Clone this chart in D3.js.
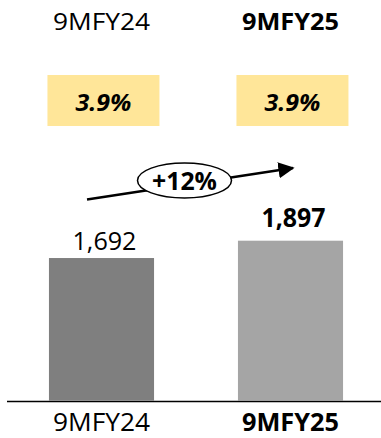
<!DOCTYPE html>
<html>
<head>
<meta charset="utf-8">
<script src="https://cdn.jsdelivr.net/npm/d3@7"></script>
<style>
  html, body { margin: 0; padding: 0; background: #fff; }
  svg { display: block; }
  text { font-family: "Open Sans", Lato, sans-serif; fill: #000; }
</style>
</head>
<body>
<div id="chart"></div>
<script>
// Nine-month comparison: value per period, margin per period, growth badge
const categories = ["9MFY24", "9MFY25"];
const values = [1692, 1897];
const valueLabels = ["1,692", "1,897"];
const margins = ["3.9%", "3.9%"];
const growthLabel = "+12%";
const emphasis = [false, true];
const barColors = ["#7F7F7F", "#A5A5A5"];

const W = 381, H = 438;
const svg = d3.select("#chart").append("svg")
  .attr("width", W).attr("height", H);

const x = d3.scaleBand()
  .domain(categories)
  .range([7, 385])
  .paddingInner(0.444)
  .paddingOuter(0.222);

const y = d3.scaleLinear()
  .domain([0, 2000])
  .range([401, 232]);

const cx = c => x(c) + x.bandwidth() / 2;

// Bars
svg.selectAll("rect.bar")
  .data(categories)
  .join("rect")
  .attr("class", "bar")
  .attr("x", c => x(c))
  .attr("width", x.bandwidth())
  .attr("y", (c, i) => y(values[i]))
  .attr("height", (c, i) => y(0) - y(values[i]) - 0.5)
  .attr("fill", (c, i) => barColors[i]);

// Baseline
svg.append("line")
  .attr("x1", 7).attr("x2", W)
  .attr("y1", y(0) + 0.5).attr("y2", y(0) + 0.5)
  .attr("stroke", "#000").attr("stroke-width", 1.5);

// Category labels, below the axis and repeated above the chart
[[29.5, 24], [431, 25]].forEach(([baseY, size]) => {
  svg.selectAll(null)
    .data(categories)
    .join("text")
    .attr("x", cx)
    .attr("y", baseY)
    .attr("text-anchor", "middle")
    .attr("font-size", size)
    .attr("font-weight", (c, i) => emphasis[i] ? 700 : 400)
    .attr("textLength", 97)
    .attr("lengthAdjust", "spacingAndGlyphs")
    .text(c => c);
});

// Margin badges
const badge = svg.selectAll("g.badge")
  .data(categories)
  .join("g")
  .attr("class", "badge");

badge.append("rect")
  .attr("x", c => x(c) - 1.5)
  .attr("y", 75)
  .attr("width", 112)
  .attr("height", 51)
  .attr("fill", "#FFE699");

badge.append("text")
  .attr("x", c => x(c) - 1.5 + 56)
  .attr("y", 110.5)
  .attr("text-anchor", "middle")
  .attr("font-size", 23)
  .attr("font-weight", 700)
  .attr("font-style", "italic")
  .attr("textLength", 56)
  .attr("lengthAdjust", "spacingAndGlyphs")
  .text((c, i) => margins[i]);

// Value labels
svg.selectAll("text.value")
  .data(categories)
  .join("text")
  .attr("class", "value")
  .attr("x", c => cx(c) + 3)
  .attr("y", (c, i) => y(values[i]) - 8 - (emphasis[i] ? 6 : 0))
  .attr("text-anchor", "middle")
  .attr("font-size", 26)
  .attr("font-weight", (c, i) => emphasis[i] ? 700 : 400)
  .attr("textLength", 64)
  .attr("lengthAdjust", "spacingAndGlyphs")
  .text((c, i) => valueLabels[i]);

// Growth arrow with oval badge
const defs = svg.append("defs");
defs.append("marker")
  .attr("id", "arrowHead")
  .attr("viewBox", "0 0 10 10")
  .attr("refX", 9).attr("refY", 5)
  .attr("markerWidth", 6.5).attr("markerHeight", 6.5)
  .attr("markerUnits", "strokeWidth")
  .attr("orient", "auto")
  .append("path")
  .attr("d", "M0,0 L10,5 L0,10 Z")
  .attr("fill", "#000");

svg.append("line")
  .attr("x1", 87).attr("y1", 199.5)
  .attr("x2", 293).attr("y2", 168)
  .attr("stroke", "#000")
  .attr("stroke-width", 2.5)
  .attr("marker-end", "url(#arrowHead)");

svg.append("ellipse")
  .attr("cx", 184.5).attr("cy", 180.5)
  .attr("rx", 47).attr("ry", 17.5)
  .attr("fill", "#fff")
  .attr("stroke", "#000")
  .attr("stroke-width", 1.5);

svg.append("text")
  .attr("x", 184.5)
  .attr("y", 190)
  .attr("text-anchor", "middle")
  .attr("font-size", 24.5)
  .attr("font-weight", 700)
  .attr("textLength", 65)
  .attr("lengthAdjust", "spacingAndGlyphs")
  .text(growthLabel);
</script>
</body>
</html>
